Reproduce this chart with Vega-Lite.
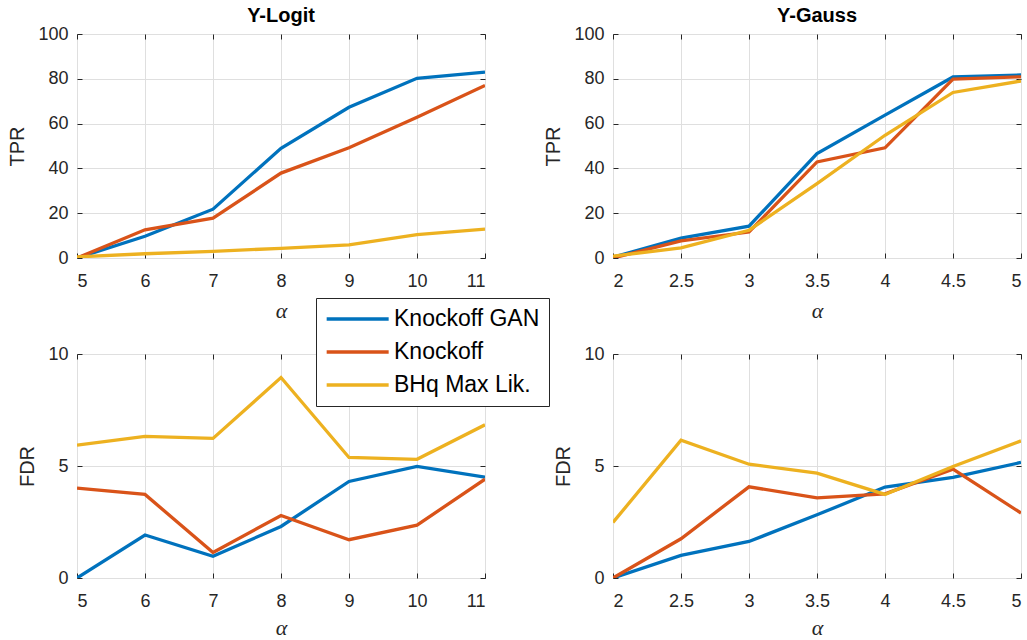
{
  "$schema": "https://vega.github.io/schema/vega-lite/v6.json",
  "padding": {"left": 7, "top": 5, "right": 5, "bottom": 5},
  "background": "white",
  "bounds": "flush",
  "spacing": {"row": 96, "column": 128},
  "columns": 2,
  "datasets": {
    "d": [
      {"panel": "lt", "method": "Knockoff GAN", "alpha": 5, "value": 0},
      {"panel": "lt", "method": "Knockoff GAN", "alpha": 6, "value": 9.7},
      {"panel": "lt", "method": "Knockoff GAN", "alpha": 7, "value": 21.8},
      {"panel": "lt", "method": "Knockoff GAN", "alpha": 8, "value": 49},
      {"panel": "lt", "method": "Knockoff GAN", "alpha": 9, "value": 67.3},
      {"panel": "lt", "method": "Knockoff GAN", "alpha": 10, "value": 80.2},
      {"panel": "lt", "method": "Knockoff GAN", "alpha": 11, "value": 83},
      {"panel": "lt", "method": "Knockoff", "alpha": 5, "value": 0},
      {"panel": "lt", "method": "Knockoff", "alpha": 6, "value": 12.6},
      {"panel": "lt", "method": "Knockoff", "alpha": 7, "value": 17.8},
      {"panel": "lt", "method": "Knockoff", "alpha": 8, "value": 37.9},
      {"panel": "lt", "method": "Knockoff", "alpha": 9, "value": 49.2},
      {"panel": "lt", "method": "Knockoff", "alpha": 10, "value": 62.8},
      {"panel": "lt", "method": "Knockoff", "alpha": 11, "value": 77},
      {"panel": "lt", "method": "BHq Max Lik.", "alpha": 5, "value": 0.5},
      {"panel": "lt", "method": "BHq Max Lik.", "alpha": 6, "value": 1.9},
      {"panel": "lt", "method": "BHq Max Lik.", "alpha": 7, "value": 3},
      {"panel": "lt", "method": "BHq Max Lik.", "alpha": 8, "value": 4.3},
      {"panel": "lt", "method": "BHq Max Lik.", "alpha": 9, "value": 5.9},
      {"panel": "lt", "method": "BHq Max Lik.", "alpha": 10, "value": 10.4},
      {"panel": "lt", "method": "BHq Max Lik.", "alpha": 11, "value": 12.9},

      {"panel": "gt", "method": "Knockoff GAN", "alpha": 2, "value": 0.4},
      {"panel": "gt", "method": "Knockoff GAN", "alpha": 2.5, "value": 8.9},
      {"panel": "gt", "method": "Knockoff GAN", "alpha": 3, "value": 14.2},
      {"panel": "gt", "method": "Knockoff GAN", "alpha": 3.5, "value": 46.6},
      {"panel": "gt", "method": "Knockoff GAN", "alpha": 4, "value": 63.8},
      {"panel": "gt", "method": "Knockoff GAN", "alpha": 4.5, "value": 80.8},
      {"panel": "gt", "method": "Knockoff GAN", "alpha": 5, "value": 81.7},
      {"panel": "gt", "method": "Knockoff", "alpha": 2, "value": 0},
      {"panel": "gt", "method": "Knockoff", "alpha": 2.5, "value": 7.6},
      {"panel": "gt", "method": "Knockoff", "alpha": 3, "value": 11.6},
      {"panel": "gt", "method": "Knockoff", "alpha": 3.5, "value": 42.9},
      {"panel": "gt", "method": "Knockoff", "alpha": 4, "value": 49.2},
      {"panel": "gt", "method": "Knockoff", "alpha": 4.5, "value": 79.9},
      {"panel": "gt", "method": "Knockoff", "alpha": 5, "value": 80.9},
      {"panel": "gt", "method": "BHq Max Lik.", "alpha": 2, "value": 0.8},
      {"panel": "gt", "method": "BHq Max Lik.", "alpha": 2.5, "value": 4.5},
      {"panel": "gt", "method": "BHq Max Lik.", "alpha": 3, "value": 12.4},
      {"panel": "gt", "method": "BHq Max Lik.", "alpha": 3.5, "value": 33.2},
      {"panel": "gt", "method": "BHq Max Lik.", "alpha": 4, "value": 54.8},
      {"panel": "gt", "method": "BHq Max Lik.", "alpha": 4.5, "value": 73.9},
      {"panel": "gt", "method": "BHq Max Lik.", "alpha": 5, "value": 79},

      {"panel": "lf", "method": "Knockoff GAN", "alpha": 5, "value": 0},
      {"panel": "lf", "method": "Knockoff GAN", "alpha": 6, "value": 1.92},
      {"panel": "lf", "method": "Knockoff GAN", "alpha": 7, "value": 0.97},
      {"panel": "lf", "method": "Knockoff GAN", "alpha": 8, "value": 2.3},
      {"panel": "lf", "method": "Knockoff GAN", "alpha": 9, "value": 4.31},
      {"panel": "lf", "method": "Knockoff GAN", "alpha": 10, "value": 4.98},
      {"panel": "lf", "method": "Knockoff GAN", "alpha": 11, "value": 4.5},
      {"panel": "lf", "method": "Knockoff", "alpha": 5, "value": 4.01},
      {"panel": "lf", "method": "Knockoff", "alpha": 6, "value": 3.73},
      {"panel": "lf", "method": "Knockoff", "alpha": 7, "value": 1.14},
      {"panel": "lf", "method": "Knockoff", "alpha": 8, "value": 2.79},
      {"panel": "lf", "method": "Knockoff", "alpha": 9, "value": 1.71},
      {"panel": "lf", "method": "Knockoff", "alpha": 10, "value": 2.36},
      {"panel": "lf", "method": "Knockoff", "alpha": 11, "value": 4.41},
      {"panel": "lf", "method": "BHq Max Lik.", "alpha": 5, "value": 5.93},
      {"panel": "lf", "method": "BHq Max Lik.", "alpha": 6, "value": 6.32},
      {"panel": "lf", "method": "BHq Max Lik.", "alpha": 7, "value": 6.23},
      {"panel": "lf", "method": "BHq Max Lik.", "alpha": 8, "value": 8.95},
      {"panel": "lf", "method": "BHq Max Lik.", "alpha": 9, "value": 5.38},
      {"panel": "lf", "method": "BHq Max Lik.", "alpha": 10, "value": 5.3},
      {"panel": "lf", "method": "BHq Max Lik.", "alpha": 11, "value": 6.84},

      {"panel": "gf", "method": "Knockoff GAN", "alpha": 2, "value": 0},
      {"panel": "gf", "method": "Knockoff GAN", "alpha": 2.5, "value": 1.01},
      {"panel": "gf", "method": "Knockoff GAN", "alpha": 3, "value": 1.63},
      {"panel": "gf", "method": "Knockoff GAN", "alpha": 3.5, "value": 2.82},
      {"panel": "gf", "method": "Knockoff GAN", "alpha": 4, "value": 4.06},
      {"panel": "gf", "method": "Knockoff GAN", "alpha": 4.5, "value": 4.49},
      {"panel": "gf", "method": "Knockoff GAN", "alpha": 5, "value": 5.16},
      {"panel": "gf", "method": "Knockoff", "alpha": 2, "value": 0},
      {"panel": "gf", "method": "Knockoff", "alpha": 2.5, "value": 1.75},
      {"panel": "gf", "method": "Knockoff", "alpha": 3, "value": 4.07},
      {"panel": "gf", "method": "Knockoff", "alpha": 3.5, "value": 3.58},
      {"panel": "gf", "method": "Knockoff", "alpha": 4, "value": 3.76},
      {"panel": "gf", "method": "Knockoff", "alpha": 4.5, "value": 4.86},
      {"panel": "gf", "method": "Knockoff", "alpha": 5, "value": 2.9},
      {"panel": "gf", "method": "BHq Max Lik.", "alpha": 2, "value": 2.48},
      {"panel": "gf", "method": "BHq Max Lik.", "alpha": 2.5, "value": 6.15},
      {"panel": "gf", "method": "BHq Max Lik.", "alpha": 3, "value": 5.08},
      {"panel": "gf", "method": "BHq Max Lik.", "alpha": 3.5, "value": 4.68},
      {"panel": "gf", "method": "BHq Max Lik.", "alpha": 4, "value": 3.73},
      {"panel": "gf", "method": "BHq Max Lik.", "alpha": 4.5, "value": 4.98},
      {"panel": "gf", "method": "BHq Max Lik.", "alpha": 5, "value": 6.12}
    ]
  },
  "data": {"name": "d"},
  "concat": [
    {
      "width": 408, "height": 224,
      "title": {"text": "Y-Logit"},
      "transform": [{"filter": "datum.panel === 'lt'"}],
      "layer": [
        {
          "mark": {"type": "line", "strokeWidth": 3.3, "clip": true},
          "encoding": {
            "x": {"field": "alpha", "type": "quantitative", "scale": {"domain": [5, 11], "nice": false, "zero": false}, "axis": {"values": [5, 6, 7, 8, 9, 10, 11], "title": "α"}},
            "y": {"field": "value", "type": "quantitative", "scale": {"domain": [0, 100], "nice": false}, "axis": {"values": [0, 20, 40, 60, 80, 100], "title": "TPR"}},
            "color": {
              "field": "method", "type": "nominal", "sort": null,
              "scale": {"domain": ["Knockoff GAN", "Knockoff", "BHq Max Lik."], "range": ["#0072BD", "#D95319", "#EDB120"]},
              "legend": {"title": null, "orient": "none", "legendX": 239, "legendY": 264}
            }
          }
        },
        {
          "mark": {"type": "point", "opacity": 0},
          "encoding": {
            "x": {"field": "alpha", "type": "quantitative", "scale": {"domain": [5, 11], "nice": false, "zero": false}, "axis": {"orient": "top", "values": [5, 6, 7, 8, 9, 10, 11], "labels": false, "grid": false, "title": null}},
            "y": {"field": "value", "type": "quantitative", "scale": {"domain": [0, 100], "nice": false}, "axis": {"orient": "right", "values": [0, 20, 40, 60, 80, 100], "labels": false, "grid": false, "title": null}}
          }
        }
      ],
      "resolve": {"axis": {"x": "independent", "y": "independent"}}
    },
    {
      "width": 408, "height": 224,
      "title": {"text": "Y-Gauss"},
      "transform": [{"filter": "datum.panel === 'gt'"}],
      "layer": [
        {
          "mark": {"type": "line", "strokeWidth": 3.3, "clip": true},
          "encoding": {
            "x": {"field": "alpha", "type": "quantitative", "scale": {"domain": [2, 5], "nice": false, "zero": false}, "axis": {"values": [2, 2.5, 3, 3.5, 4, 4.5, 5], "format": "~g", "title": "α"}},
            "y": {"field": "value", "type": "quantitative", "scale": {"domain": [0, 100], "nice": false}, "axis": {"values": [0, 20, 40, 60, 80, 100], "title": "TPR"}},
            "color": {"field": "method", "type": "nominal", "sort": null}
          }
        },
        {
          "mark": {"type": "point", "opacity": 0},
          "encoding": {
            "x": {"field": "alpha", "type": "quantitative", "scale": {"domain": [2, 5], "nice": false, "zero": false}, "axis": {"orient": "top", "values": [2, 2.5, 3, 3.5, 4, 4.5, 5], "labels": false, "grid": false, "title": null}},
            "y": {"field": "value", "type": "quantitative", "scale": {"domain": [0, 100], "nice": false}, "axis": {"orient": "right", "values": [0, 20, 40, 60, 80, 100], "labels": false, "grid": false, "title": null}}
          }
        }
      ],
      "resolve": {"axis": {"x": "independent", "y": "independent"}}
    },
    {
      "width": 408, "height": 224,
      "transform": [{"filter": "datum.panel === 'lf'"}],
      "layer": [
        {
          "mark": {"type": "line", "strokeWidth": 3.3, "clip": true},
          "encoding": {
            "x": {"field": "alpha", "type": "quantitative", "scale": {"domain": [5, 11], "nice": false, "zero": false}, "axis": {"values": [5, 6, 7, 8, 9, 10, 11], "title": "α", "titlePadding": 7}},
            "y": {"field": "value", "type": "quantitative", "scale": {"domain": [0, 10], "nice": false}, "axis": {"values": [0, 5, 10], "title": "FDR"}},
            "color": {"field": "method", "type": "nominal", "sort": null}
          }
        },
        {
          "mark": {"type": "point", "opacity": 0},
          "encoding": {
            "x": {"field": "alpha", "type": "quantitative", "scale": {"domain": [5, 11], "nice": false, "zero": false}, "axis": {"orient": "top", "values": [5, 6, 7, 8, 9, 10, 11], "labels": false, "grid": false, "title": null}},
            "y": {"field": "value", "type": "quantitative", "scale": {"domain": [0, 10], "nice": false}, "axis": {"orient": "right", "values": [0, 5, 10], "labels": false, "grid": false, "title": null}}
          }
        }
      ],
      "resolve": {"axis": {"x": "independent", "y": "independent"}}
    },
    {
      "width": 408, "height": 224,
      "transform": [{"filter": "datum.panel === 'gf'"}],
      "layer": [
        {
          "mark": {"type": "line", "strokeWidth": 3.3, "clip": true},
          "encoding": {
            "x": {"field": "alpha", "type": "quantitative", "scale": {"domain": [2, 5], "nice": false, "zero": false}, "axis": {"values": [2, 2.5, 3, 3.5, 4, 4.5, 5], "format": "~g", "title": "α", "titlePadding": 7}},
            "y": {"field": "value", "type": "quantitative", "scale": {"domain": [0, 10], "nice": false}, "axis": {"values": [0, 5, 10], "title": "FDR"}},
            "color": {"field": "method", "type": "nominal", "sort": null}
          }
        },
        {
          "mark": {"type": "point", "opacity": 0},
          "encoding": {
            "x": {"field": "alpha", "type": "quantitative", "scale": {"domain": [2, 5], "nice": false, "zero": false}, "axis": {"orient": "top", "values": [2, 2.5, 3, 3.5, 4, 4.5, 5], "labels": false, "grid": false, "title": null}},
            "y": {"field": "value", "type": "quantitative", "scale": {"domain": [0, 10], "nice": false}, "axis": {"orient": "right", "values": [0, 5, 10], "labels": false, "grid": false, "title": null}}
          }
        }
      ],
      "resolve": {"axis": {"x": "independent", "y": "independent"}}
    }
  ],
  "config": {
    "font": "Liberation Sans",
    "view": {"stroke": "#262626", "strokeWidth": 1},
    "title": {"fontSize": 20, "fontWeight": "bold", "color": "#000000", "font": "Liberation Sans", "offset": -1},
    "axis": {
      "domain": false,
      "grid": true,
      "gridColor": "#dfdfdf",
      "gridWidth": 1,
      "ticks": true,
      "tickSize": -5,
      "tickColor": "#262626",
      "labelFont": "Liberation Sans",
      "labelFontSize": 18,
      "labelColor": "#262626",
      "titleFont": "Liberation Sans",
      "titleFontSize": 20,
      "titleFontWeight": "normal",
      "titleColor": "#262626"
    },
    "axisX": {"labelPadding": 19, "titleFont": "Liberation Serif", "titleFontStyle": "italic", "titleFontSize": 22, "titlePadding": 10},
    "axisY": {"labelPadding": 14, "titlePadding": 10},
    "legend": {
      "strokeColor": "#262626",
      "fillColor": "white",
      "padding": 9,
      "symbolType": "M-1,0H5",
      "symbolSize": 427,
      "symbolStrokeWidth": 3.3,
      "labelFontSize": 23,
      "labelFont": "Liberation Sans",
      "labelColor": "#000000",
      "labelOffset": 45,
      "rowPadding": 9,
      "labelLimit": 300
    }
  }
}
